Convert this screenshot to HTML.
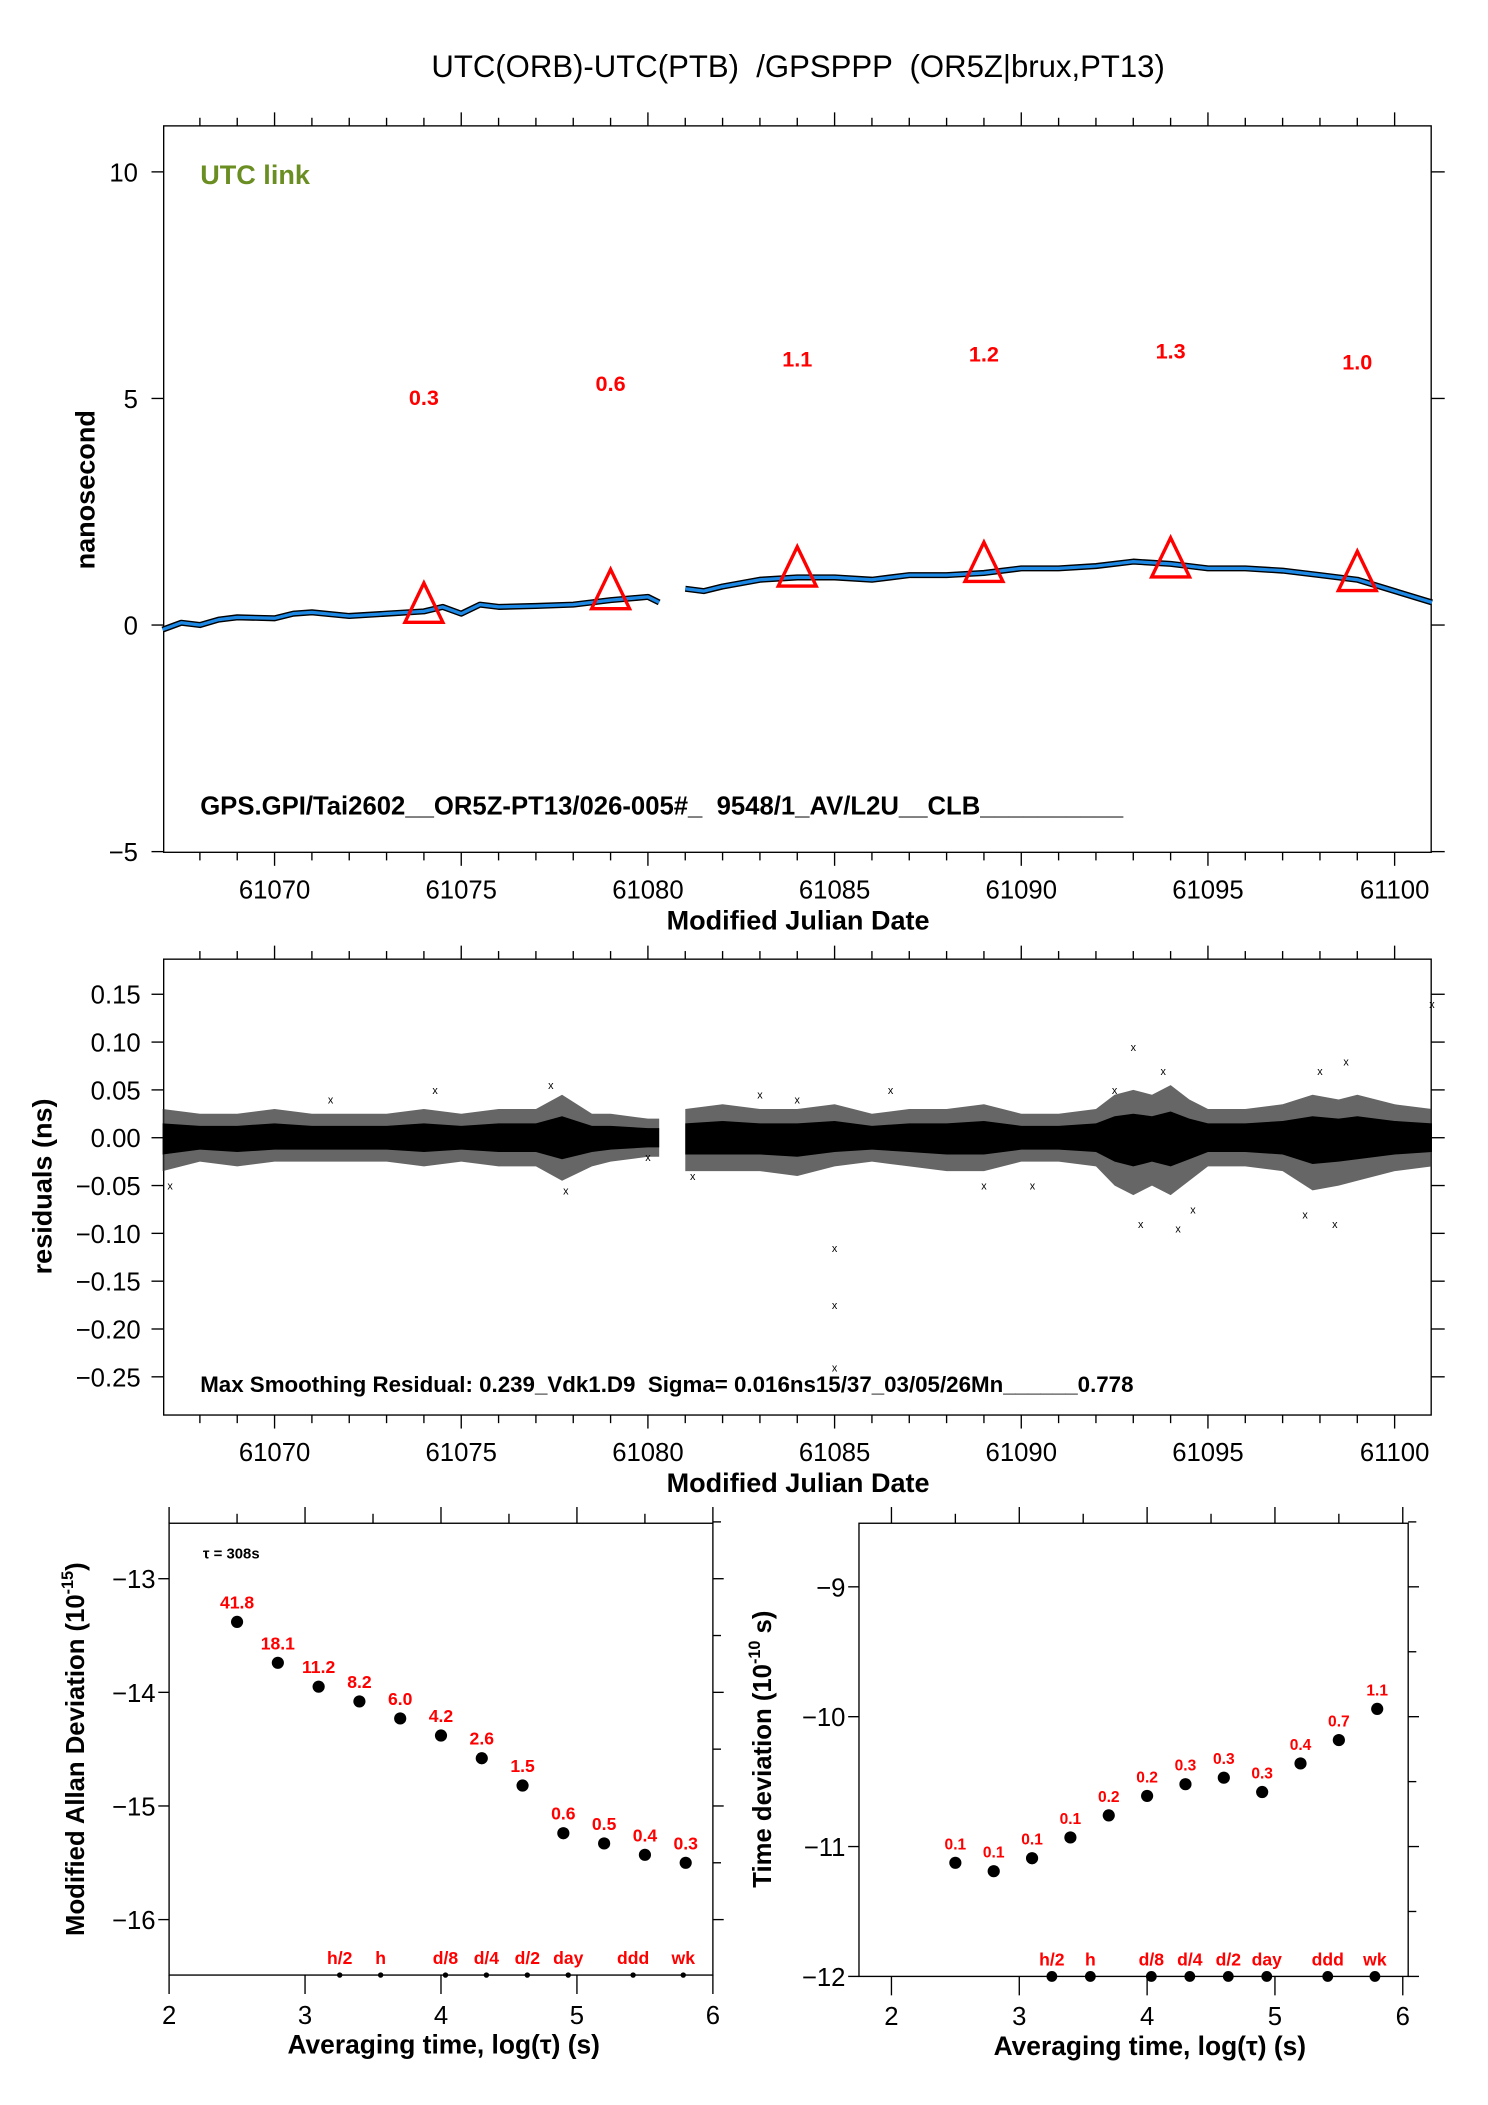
<!DOCTYPE html>
<html><head><meta charset="utf-8"><style>
html,body{margin:0;padding:0;background:#fff}
svg{display:block;font-family:"Liberation Sans",sans-serif}
text{white-space:pre}
</style></head><body>
<svg id="chart" width="1488" height="2105" viewBox="0 0 1100 1556" xmlns="http://www.w3.org/2000/svg">
<text x="590" y="57" font-size="23" text-anchor="middle">UTC(ORB)-UTC(PTB)  /GPSPPP  (OR5Z|brux,PT13)</text>
<g id="g"></g>
</svg>
<script>
// ---- top panel data ----
const mjd = [61067,61067.5,61068,61068.5,61069,61070,61070.5,61071,61072,61073,61074,61074.5,61075,61075.5,61076,61077,61078,61079,61080,61080.3,null,61081,61081.5,61082,61083,61084,61085,61086,61087,61088,61089,61090,61091,61092,61093,61094,61095,61096,61097,61098,61099,61100,61101];
const offsetNs = [-0.1,0.05,0.0,0.12,0.17,0.15,0.25,0.28,0.2,0.25,0.3,0.4,0.25,0.45,0.4,0.42,0.45,0.55,0.62,0.5,null,0.8,0.75,0.85,1.0,1.05,1.05,1.0,1.1,1.1,1.15,1.25,1.25,1.3,1.4,1.35,1.25,1.25,1.2,1.1,1.0,0.75,0.5];
const triMjd = [61074,61079,61084,61089,61094,61099];
const triVal = [0.3,0.6,1.1,1.2,1.3,1.0];
const triLabel = ["0.3","0.6","1.1","1.2","1.3","1.0"];
const triLabelY = [5.04,5.34,5.88,6.0,6.06,5.82];
const topYTicks = [10,5,0,-5];
const mjdTicks = [61070,61075,61080,61085,61090,61095,61100];
// ---- residual panel data ----
const resMjd = [61067,61068,61069,61070,61071,61072,61073,61074,61075,61076,61077,61077.7,61078.5,61079,61080,61080.3,null,61081,61082,61083,61084,61085,61086,61087,61088,61089,61090,61091,61092,61092.5,61093,61093.5,61094,61094.5,61095,61096,61097,61097.8,61098.5,61099,61100,61101];
const resUp = [0.03,0.025,0.025,0.03,0.025,0.025,0.025,0.03,0.025,0.03,0.03,0.045,0.025,0.025,0.02,0.02,null,0.03,0.035,0.03,0.03,0.035,0.025,0.03,0.03,0.035,0.025,0.025,0.03,0.045,0.05,0.045,0.055,0.04,0.03,0.03,0.035,0.045,0.04,0.045,0.035,0.03];
const resLo = [-0.035,-0.025,-0.03,-0.025,-0.025,-0.025,-0.025,-0.03,-0.025,-0.03,-0.03,-0.045,-0.03,-0.025,-0.02,-0.02,null,-0.035,-0.035,-0.035,-0.04,-0.03,-0.025,-0.03,-0.035,-0.035,-0.025,-0.025,-0.03,-0.05,-0.06,-0.05,-0.06,-0.045,-0.03,-0.03,-0.035,-0.055,-0.05,-0.045,-0.035,-0.03];
const outMjd = [61067.2,61071.5,61074.3,61077.4,61077.8,61080,61081.2,61083,61084,61085,61085,61085,61086.5,61089,61090.3,61092.5,61093,61093.2,61093.8,61094.2,61094.6,61097.6,61098,61098.4,61098.7,61101];
const outVal = [-0.05,0.04,0.05,0.055,-0.055,-0.02,-0.04,0.045,0.04,-0.115,-0.175,-0.24,0.05,-0.05,-0.05,0.05,0.095,-0.09,0.07,-0.095,-0.075,-0.08,0.07,-0.09,0.08,0.14];
const resYTicks = [0.15,0.10,0.05,0.00,-0.05,-0.10,-0.15,-0.20,-0.25];
// ---- ADEV / TDEV data ----
const logTau = [2.5,2.8,3.1,3.4,3.7,4.0,4.3,4.6,4.9,5.2,5.5,5.8];
const madev = [-13.38,-13.74,-13.95,-14.08,-14.23,-14.38,-14.58,-14.82,-15.24,-15.33,-15.43,-15.50];
const madevLabels = ["41.8","18.1","11.2","8.2","6.0","4.2","2.6","1.5","0.6","0.5","0.4","0.3"];
const tdev = [-11.125,-11.19,-11.09,-10.93,-10.76,-10.61,-10.52,-10.47,-10.58,-10.36,-10.18,-9.94];
const tdevLabels = ["0.1","0.1","0.1","0.1","0.2","0.2","0.3","0.3","0.3","0.4","0.7","1.1"];
const markNames = ["h/2","h","d/8","d/4","d/2","day","ddd","wk"];
const markTau = [3.255,3.556,4.033,4.334,4.635,4.936,5.413,5.782];
const madevYTicks = [-13,-14,-15,-16];
const tdevYTicks = [-9,-10,-11,-12];
const logTicks = [2,3,4,5,6];

const NS="http://www.w3.org/2000/svg";
const G=document.getElementById('g');
function el(t,a,p){const e=document.createElementNS(NS,t);for(const k in a)e.setAttribute(k,a[k]);(p||G).appendChild(e);return e;}
function txt(x,y,s,a){const e=el('text',Object.assign({x:x,y:y},a||{}));e.textContent=s;return e;}
const fmtMinus=s=>s.replace('-','\u2212');

const xT=d=>121+(d-61067.03)*27.6;
const yT=v=>462-v*33.5;
const yM=v=>841-v*707;
const xL=v=>125+(v-2)*100.5;
const yL=v=>1167+(-13-v)*84;
const xR=v=>659+(v-2)*94.5;
const yR=v=>1173+(-9-v)*96;

function frame(x0,y0,x1,y1,name){
  const r=el('rect',{x:x0,y:y0,width:x1-x0,height:y1-y0,fill:'none',stroke:'#000','stroke-width':1});
  
  
}
function mjdAxis(y0,y1,labelY,name){
  for(let d=61068;d<=61100;d++){
    const big=d%5===0, L=big?10:6;
    el('line',{x1:xT(d),x2:xT(d),y1:y0,y2:y0-L,stroke:'#000'});
    el('line',{x1:xT(d),x2:xT(d),y1:y1,y2:y1+L,stroke:'#000'});
  }
  mjdTicks.forEach(d=>{const t=txt(xT(d),labelY,String(d),{'font-size':19,'text-anchor':'middle'});
    
    });
  const t=txt(590,labelY+23,'Modified Julian Date',{'font-size':20,'font-weight':'bold','text-anchor':'middle'});
  
  
}

// ---------- top panel ----------
frame(121,93,1058,630,'top-plot-frame');
mjdAxis(93,630,664,'top-x-axis-title');
topYTicks.forEach(v=>{
  el('line',{x1:121,x2:112,y1:yT(v),y2:yT(v),stroke:'#000'});
  el('line',{x1:1058,x2:1068,y1:yT(v),y2:yT(v),stroke:'#000'});
  const t=txt(102,yT(v)+7,fmtMinus(String(v)),{'font-size':19,'text-anchor':'end'});
  
  
});
{const t=txt(70,362,'nanosecond',{'font-size':20,'font-weight':'bold','text-anchor':'middle',transform:'rotate(-90 70 362)'});
 }
{const t=txt(148,136,'UTC link',{'font-size':20,'font-weight':'bold',fill:'#6b8e23'});
 }
{const t=txt(148,602,'GPS.GPI/Tai2602__OR5Z-PT13/026-005#_  9548/1_AV/L2U__CLB__________',{'font-size':19,'font-weight':'bold'});
 }
function segPaths(xs,ys,fx,fy){const segs=[];let cur='';xs.forEach((d,i)=>{if(d===null){if(cur)segs.push(cur);cur='';return;}cur+=(cur?'L':'M')+fx(d).toFixed(1)+','+fy(ys[i]).toFixed(1);});if(cur)segs.push(cur);return segs;}
segPaths(mjd,offsetNs,xT,yT).forEach(p=>{
  const a=el('path',{d:p,fill:'none',stroke:'#000','stroke-width':4.5,'stroke-linejoin':'round'});
  
  const b=el('path',{d:p,fill:'none',stroke:'#1e88e5','stroke-width':2.4,'stroke-linejoin':'round'});
  
});
triMjd.forEach((d,i)=>{
  const cx=xT(d),cy=yT(triVal[i]);
  const p=el('polygon',{points:`${cx},${cy-21} ${cx-14},${cy+8} ${cx+14},${cy+8}`,fill:'none',stroke:'#f00','stroke-width':2.5});
  
  const t=txt(cx,yT(triLabelY[i])+6,triLabel[i],{'font-size':16,'font-weight':'bold',fill:'#f00','text-anchor':'middle'});
  
});

// ---------- residual panel ----------
frame(121,709,1058,1046,'residual-plot-frame');
mjdAxis(709,1046,1080,'residual-x-axis-title');
resYTicks.forEach(v=>{
  el('line',{x1:121,x2:112,y1:yM(v),y2:yM(v),stroke:'#000'});
  el('line',{x1:1058,x2:1068,y1:yM(v),y2:yM(v),stroke:'#000'});
  const t=txt(104,yM(v)+7,fmtMinus(v.toFixed(2)),{'font-size':19,'text-anchor':'end'});
  
});
{const t=txt(38,877,'residuals (ns)',{'font-size':20,'font-weight':'bold','text-anchor':'middle',transform:'rotate(-90 38 877)'});
 }
{let seg=[];const flush=()=>{if(seg.length<2){seg=[];return;}
  const up=seg.map(i=>xT(resMjd[i]).toFixed(1)+','+yM(resUp[i]).toFixed(1));
  const lo=seg.slice().reverse().map(i=>xT(resMjd[i]).toFixed(1)+','+yM(resLo[i]).toFixed(1));
  const p=el('polygon',{points:up.concat(lo).join(' '),fill:'#333','fill-opacity':0.75});
  
  const c=seg.map(i=>xT(resMjd[i]).toFixed(1)+','+yM(resUp[i]*0.5).toFixed(1)).concat(seg.slice().reverse().map(i=>xT(resMjd[i]).toFixed(1)+','+yM(resLo[i]*0.5).toFixed(1)));
  const q=el('polygon',{points:c.join(' '),fill:'#000'});
  
  seg=[];};
 resMjd.forEach((d,i)=>{if(d===null)flush();else seg.push(i);});flush();}
outMjd.forEach((d,i)=>{
  const t=txt(xT(d),yM(outVal[i])+3,'x',{'font-size':8,'text-anchor':'middle'});
  
});
{const t=txt(148,1029,'Max Smoothing Residual: 0.239_Vdk1.D9  Sigma= 0.016ns15/37_03/05/26Mn______0.778',{'font-size':16.5,'font-weight':'bold'});
 }

// ---------- stability panels ----------
function stabPanel(fx,fy,x0,x1,y0,y1,yTicks,vals,labels,pref){
  frame(x0,y0,x1,y1,pref+'-plot-frame');
  for(let v=2;v<=6;v+=0.5){const L=(v%1===0)?12:7;
    el('line',{x1:fx(v),x2:fx(v),y1:y0,y2:y0-L,stroke:'#000'});
    if(v%1===0)el('line',{x1:fx(v),x2:fx(v),y1:y1,y2:y1+14,stroke:'#000'});}
  logTicks.forEach(v=>{const t=txt(fx(v),y1+36,String(v),{'font-size':19,'text-anchor':'middle'});
    });
  yTicks.forEach(v=>{
    el('line',{x1:x0,x2:x0-8,y1:fy(v),y2:fy(v),stroke:'#000'});
    el('line',{x1:x1,x2:x1+8,y1:fy(v),y2:fy(v),stroke:'#000'});
    el('line',{x1:x1,x2:x1+6,y1:fy(v+0.5),y2:fy(v+0.5),stroke:'#000'});
    const t=txt(x0-10,fy(v)+7,fmtMinus(String(v)),{'font-size':19,'text-anchor':'end'});
    });
  logTau.forEach((x,i)=>{
    const c=el('circle',{cx:fx(x),cy:fy(vals[i]),r:4.5,fill:'#000'});
    
    const t=txt(fx(x),fy(vals[i])-10,labels[i],{'font-size':pref==='madev'?13:11.5,'font-weight':'bold',fill:'#f00','text-anchor':'middle'});
    
  });
  markTau.forEach((x,i)=>{
    const c=el('circle',{cx:fx(x),cy:y1,r:pref==='madev'?2:4,fill:'#000'});
    
    const t=txt(fx(x),y1-8,markNames[i],{'font-size':13,'font-weight':'bold',fill:'#f00','text-anchor':'middle'});
    
  });
  const t=txt((x0+x1)/2+(pref==='madev'?2:12),y1+58,'Averaging time, log(\u03c4) (s)',{'font-size':19.5,'font-weight':'bold','text-anchor':'middle'});
  
}
stabPanel(xL,yL,125,527,1126,1460,madevYTicks,madev,madevLabels,'madev');
stabPanel(xR,yR,635,1041,1126,1461,tdevYTicks,tdev,tdevLabels,'tdev');
{const t=el('text',{x:62,y:1293,'font-size':19,'font-weight':'bold','text-anchor':'middle',transform:'rotate(-90 62 1293)'});
 t.innerHTML='Modified Allan Deviation (10<tspan font-size="12" dy="-8">-15</tspan><tspan dy="8">)</tspan>';
 }
{const t=el('text',{x:570,y:1293,'font-size':19,'font-weight':'bold','text-anchor':'middle',transform:'rotate(-90 570 1293)'});
 t.innerHTML='Time deviation (10<tspan font-size="12" dy="-8">-10</tspan><tspan dy="8"> s)</tspan>';
 }
{const t=txt(150,1152,'\u03c4 = 308s',{'font-size':11,'font-weight':'bold'});
 }
</script>
</body></html>
